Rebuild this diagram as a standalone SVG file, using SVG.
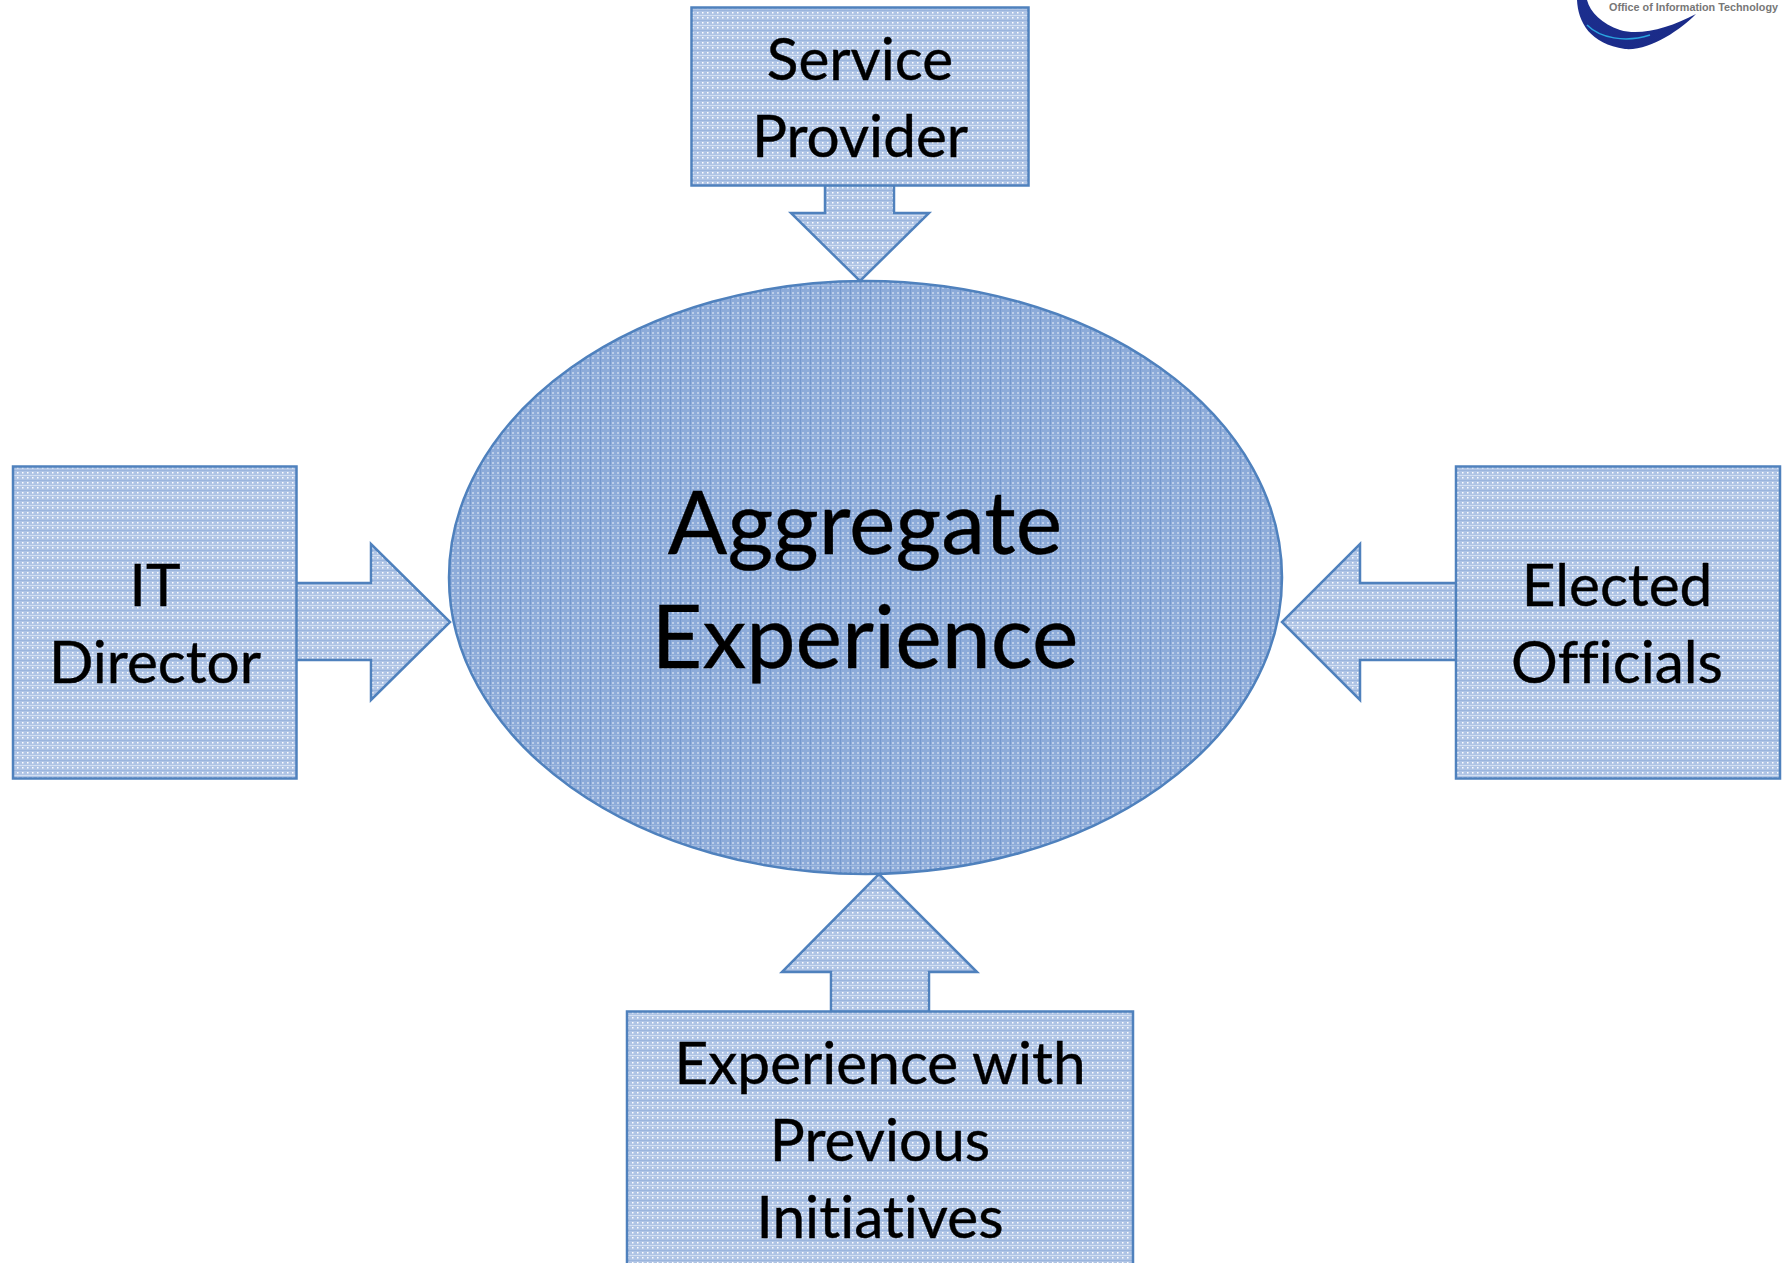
<svg xmlns="http://www.w3.org/2000/svg" width="1782" height="1263" viewBox="0 0 1782 1263">
<style>
.s{stroke:#4f81bd;stroke-width:2.5;stroke-linejoin:miter}
.t{font-family:"Lato","Open Sans",sans-serif;font-size:58.500px;fill:#000;text-anchor:middle;font-variant-ligatures:none;stroke:#000;stroke-width:.4}
.b{font-size:88px}
</style>
<defs>
<pattern id="lt" width="10" height="10" patternUnits="userSpaceOnUse">
<rect width="10" height="10" fill="#afc4e5"/>
<rect x="2" y="2" width="1.500" height="1.500" fill="#fff"/>
<rect x="7" y="2" width="1.500" height="1.500" fill="#fff"/>
<rect x="2" y="7" width="1.500" height="1.500" fill="#fff"/>
<rect x="7" y="7" width="1.500" height="1.500" fill="#fff"/>
<rect y="5" width="10" height="1" fill="#d3dff1"/>
<rect y="0" width="10" height="1" fill="#9bb5dd"/>
</pattern>
<pattern id="dk" width="10" height="10" patternUnits="userSpaceOnUse">
<rect width="10" height="10" fill="#8dabd9"/>
<rect x="2" y="2" width="2" height="2" fill="#bccee9"/>
<rect x="7" y="2" width="2" height="2" fill="#bccee9"/>
<rect x="2" y="7" width="2" height="2" fill="#bccee9"/>
<rect x="7" y="7" width="2" height="2" fill="#bccee9"/>
<rect x="0" width="1" height="10" fill="#7598cd"/>
<rect y="5" width="10" height="1" fill="#a3bce1"/>
</pattern>
<linearGradient id="sw" x1="0" y1="0" x2="1" y2="1">
<stop offset="0" stop-color="#1c2f8f"/><stop offset="1" stop-color="#1a2a86"/>
</linearGradient>
</defs>
<g id="connectors">
<path class="s" fill="url(#lt)" d="M825 185V213H791L860 281L929 213H894V185"/>
<path class="s" fill="url(#lt)" d="M296.500 583H371V544L450 622L371 700V660H296.500"/>
<path class="s" fill="url(#lt)" d="M1456 583H1360V544L1282 622L1360 700V660H1456"/>
<path class="s" fill="url(#lt)" d="M831 1011V972H782L879 874L977 972H929V1011"/>
</g>
<g id="aggregate">
<ellipse class="s" fill="url(#dk)" cx="865.500" cy="577.500" rx="416.500" ry="296.500"/>
<text class="t b" x="865" y="554">Aggregate</text>
<text class="t b" x="865" y="668">Experience</text>
</g>
<g id="service-provider">
<rect class="s" fill="url(#lt)" x="691.500" y="7.500" width="337" height="178"/>
<text class="t" x="860" y="80">Service</text>
<text class="t" x="860" y="157">Provider</text>
</g>
<g id="it-director">
<rect class="s" fill="url(#lt)" x="13" y="466.500" width="283.500" height="312"/>
<text class="t" x="155" y="606">IT</text>
<text class="t" x="155" y="683">Director</text>
</g>
<g id="elected-officials">
<rect class="s" fill="url(#lt)" x="1456" y="466.500" width="324" height="312"/>
<text class="t" x="1617" y="606">Elected</text>
<text class="t" x="1617" y="683">Officials</text>
</g>
<g id="previous-initiatives">
<rect class="s" fill="url(#lt)" x="627" y="1011.500" width="506" height="270"/>
<text class="t" x="880" y="1084">Experience with</text>
<text class="t" x="880" y="1161">Previous</text>
<text class="t" x="880" y="1238">Initiatives</text>
</g>
<g id="logo">
<path fill="url(#sw)" d="M1577 0C1578 22 1590 44 1625 49C1650 51 1680 30 1696 14C1670 28 1640 36 1620 30C1602 24 1590 12 1587 0Z"/>
<path fill="none" stroke="#2aa3df" stroke-width="1.500" d="M1587 25C1600 38 1625 43 1650 35"/>
<text x="1609" y="11" font-family="Liberation Sans,sans-serif" font-weight="bold" font-size="10.500" fill="#777" textLength="169" lengthAdjust="spacingAndGlyphs">Office of Information Technology</text>
</g>
</svg>
